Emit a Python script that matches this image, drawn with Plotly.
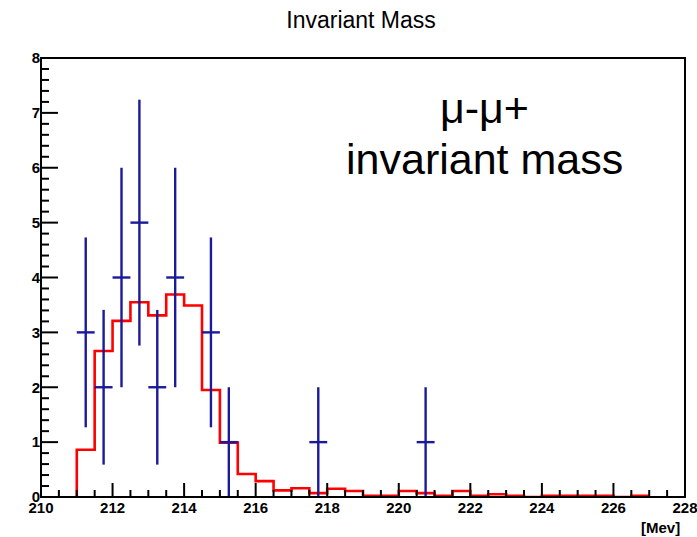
import plotly.graph_objects as go

mc_low_edge = 211.0
mc_bin_width = 0.5
mc_values = [0.86, 2.66, 3.21, 3.55, 3.31, 3.69, 3.49, 1.95, 0.99, 0.42, 0.29, 0.12,
             0.16, 0.07, 0.15, 0.11, 0.02, 0.02, 0.11, 0.07, 0.02, 0.11, 0.02, 0.05,
             0.02, 0.0, 0.02, 0.02, 0.02, 0.02, 0.0, 0.02]

data_x = [211.25, 211.75, 212.25, 212.75, 213.25, 213.75, 214.75, 215.25, 217.75, 220.75]
data_y = [3, 2, 4, 5, 2, 4, 3, 1, 1, 1]
data_err_y = [1.73, 1.41, 2.0, 2.24, 1.41, 2.0, 1.73, 1.0, 1.0, 1.0]
data_err_x = [0.25] * len(data_x)

x_range = [210, 228]
y_range = [0, 8]
x_ticks = [210, 212, 214, 216, 218, 220, 222, 224, 226, 228]
y_ticks = [0, 1, 2, 3, 4, 5, 6, 7, 8]
x_minor_step = 0.5
y_minor_step = 0.2

edges = [mc_low_edge + i * mc_bin_width for i in range(len(mc_values) + 1)]
hx = [edges[0]] + edges
hy = [0] + mc_values + [mc_values[-1]]

fig = go.Figure()
fig.add_trace(go.Scatter(x=hx, y=hy, mode="lines", line=dict(color="#ff0000", width=2.6, shape="hv"),
                         showlegend=False, hoverinfo="skip"))
fig.add_trace(go.Scatter(x=data_x, y=data_y, mode="markers",
                         marker=dict(size=0.1, color="#1a1a9a", opacity=0),
                         error_y=dict(type="data", array=data_err_y, color="#1a1a9a", thickness=2.4, width=0),
                         error_x=dict(type="data", array=data_err_x, color="#1a1a9a", thickness=2.4, width=0),
                         showlegend=False))

# plot area in pixels (for tick lengths expressed as paper fractions)
PLOT_W = 697 - 41 - 12
PLOT_H = 537 - 58 - 40

tick_line = dict(color="black", width=2)
shapes = [dict(type="rect", xref="paper", yref="paper", x0=0, y0=0, x1=1, y1=1,
               line=dict(color="black", width=2), fillcolor="rgba(0,0,0,0)", layer="above")]

# x-axis ticks (inward, from the bottom axis)
n_x_minor = int(round((x_range[1] - x_range[0]) / x_minor_step))
for i in range(n_x_minor + 1):
    xv = x_range[0] + i * x_minor_step
    length = 14 if any(abs(xv - t) < 1e-9 for t in x_ticks) else 7
    shapes.append(dict(type="line", xref="x", yref="paper", x0=xv, x1=xv, y0=0, y1=length / PLOT_H,
                       line=tick_line, layer="above"))

# y-axis ticks (inward, from the left axis)
n_y_minor = int(round((y_range[1] - y_range[0]) / y_minor_step))
for i in range(n_y_minor + 1):
    yv = y_range[0] + i * y_minor_step
    length = 17 if any(abs(yv - t) < 1e-9 for t in y_ticks) else 8
    shapes.append(dict(type="line", xref="paper", yref="y", x0=0, x1=length / PLOT_W, y0=yv, y1=yv,
                       line=tick_line, layer="above"))

FONT = "Liberation Sans, Arial, sans-serif"
axis_font = dict(family=FONT, size=15, color="black", weight="bold")
fig.update_layout(
    width=697, height=537,
    margin=dict(l=41, r=12, t=58, b=40),
    paper_bgcolor="white", plot_bgcolor="white",
    title=dict(text="Invariant Mass", x=0.518, xanchor="center", y=0.963, yanchor="middle",
               font=dict(family=FONT, size=23, color="black")),
    shapes=shapes,
    annotations=[
        dict(text="[Mev]", xref="paper", yref="paper", x=(682 - 41) / 644, y=-(527 - 497) / 439,
             xanchor="right", yanchor="middle", showarrow=False,
             font=dict(family=FONT, size=15, color="black", weight="bold")),
        dict(text="μ-μ+", xref="paper", yref="paper", x=(484 - 41) / 644, y=(497 - 108) / 439,
             xanchor="center", yanchor="middle", showarrow=False,
             font=dict(family=FONT, size=43, color="black")),
        dict(text="invariant mass", xref="paper", yref="paper", x=(484 - 41) / 644, y=(497 - 159) / 439,
             xanchor="center", yanchor="middle", showarrow=False,
             font=dict(family=FONT, size=43, color="black")),
    ],
    xaxis=dict(range=x_range, tickmode="array", tickvals=x_ticks, ticks="",
               showline=False, showgrid=False, zeroline=False,
               tickfont=axis_font, automargin=False, ticklabeloverflow="allow"),
    yaxis=dict(range=y_range, tickmode="array", tickvals=y_ticks, ticks="",
               showline=False, showgrid=False, zeroline=False,
               tickfont=axis_font, automargin=False),
)

fig.write_html("out.html")
